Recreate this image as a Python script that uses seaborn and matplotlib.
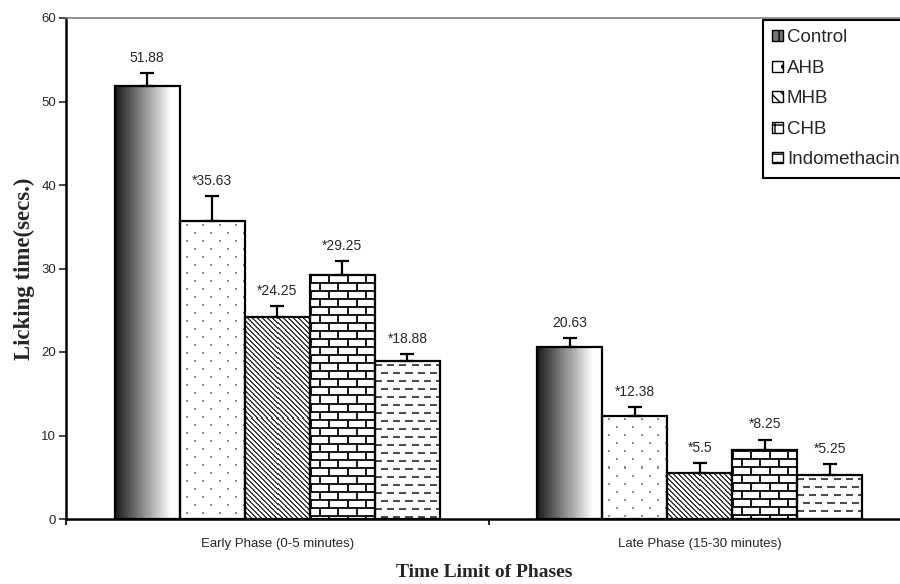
import numpy as np
import pandas as pd
import matplotlib
matplotlib.use("Agg")
import matplotlib.pyplot as plt
import seaborn as sns
from matplotlib.patches import Patch

sns.set_style("white")
plt.rcParams["font.family"] = ["Liberation Sans", "DejaVu Sans"]

# datos
phases = ["Early Phase (0-5 minutes)", "Late Phase (15-30 minutes)"]
groups = ["Control", "AHB", "MHB", "CHB", "Indomethacin"]
early = [51.88, 35.63, 24.25, 29.25, 18.88]
late = [20.63, 12.38, 5.5, 8.25, 5.25]
early_err = [1.5, 3.0, 1.2, 1.6, 0.85]
late_err = [1.0, 1.0, 1.2, 1.25, 1.3]
early_lbl = ["51.88", "*35.63", "*24.25", "*29.25", "*18.88"]
late_lbl = ["20.63", "*12.38", "*5.5", "*8.25", "*5.25"]
textures = ["gradient", "dots", "diag", "brick", "dash"]

df = pd.DataFrame({
    "phase": [phases[0]] * 5 + [phases[1]] * 5,
    "group": groups * 2,
    "value": early + late,
})


def make_texture(kind, h, w):
    yy, xx = np.mgrid[0:h, 0:w]
    img = np.ones((h, w))
    if kind == "gradient":
        ramp = np.clip(np.linspace(0, 1, w) / 0.85, 0, 1)
        img = np.tile(0.1 + 0.9 * ramp, (h, 1))
    elif kind == "dots":
        row = yy // 8
        on = (yy % 8 >= 3) & (yy % 8 <= 4) & ((xx + (row % 2) * 8) % 16 >= 6) & ((xx + (row % 2) * 8) % 16 <= 7)
        img[on] = 0.55
    elif kind == "diag":
        img[(xx - yy) % 5 < 2] = 0.25
    elif kind == "brick":
        row = yy // 8
        horiz = yy % 8 < 2
        vert = ((xx + (row % 2) * 9) % 18) < 2
        img[horiz | vert] = 0.1
    elif kind == "dash":
        row = yy // 8
        on = (yy % 8 >= 3) & (yy % 8 <= 4) & (((xx + (row % 2) * 6) % 12) < 7)
        img[on] = 0.3
    return img


fig = plt.figure(figsize=(9, 5.84), dpi=100)
ax = fig.add_axes([66 / 900, 1 - 519 / 584, 845 / 900, 501 / 584])

sns.barplot(data=df, x="phase", y="value", hue="group", hue_order=groups,
            palette=["white"] * 5, edgecolor="black", linewidth=1.6,
            width=0.77, errorbar=None, legend=False, ax=ax)

ax.set_xlim(-0.5, 1.5)
ax.set_ylim(0, 60)

bar_conts = list(ax.containers)
for i, cont in enumerate(bar_conts):
    errs = [early_err[i], late_err[i]]
    lbls = [early_lbl[i], late_lbl[i]]
    for j, bar in enumerate(cont.patches):
        bar.set_facecolor("none")
        bar.set_zorder(2)
        bb = bar.get_window_extent()
        w = max(int(round(bb.width)), 1)
        h = max(int(round(bb.height)), 1)
        x0 = bar.get_x()
        x1 = x0 + bar.get_width()
        top = bar.get_height()
        ax.imshow(make_texture(textures[i], h, w), cmap="gray", vmin=0, vmax=1,
                  extent=(x0, x1, 0, top), aspect="auto", interpolation="nearest",
                  clip_path=bar, zorder=1)
        xc = x0 + bar.get_width() / 2
        ax.errorbar([xc], [top], yerr=[[0], [errs[j]]], fmt="none", ecolor="black",
                    elinewidth=1.6, capsize=5, capthick=1.6, zorder=3)
        ax.annotate(lbls[j], (xc, top + errs[j]), xytext=(0, 11), textcoords="offset points",
                    ha="center", va="center", fontsize=10)

ax.set_xlim(-0.5, 1.5)
ax.set_ylim(0, 60)
ax.set_yticks(range(0, 61, 10))
ax.set_xticks([0, 1])
ax.set_xticklabels(phases, fontsize=9.5)
ax.set_xticks([-0.5, 0.5, 1.5], minor=True)
ax.tick_params(axis="x", which="major", length=0, pad=14)
ax.tick_params(axis="x", which="minor", direction="out", length=4, width=1.5, bottom=True)
ax.tick_params(axis="y", direction="out", length=5, width=1.2, left=True, labelsize=9.5, pad=2)

for side in ["left", "bottom"]:
    ax.spines[side].set_color("black")
    ax.spines[side].set_linewidth(1.8)
ax.spines["top"].set_color("#808080")
ax.spines["top"].set_linewidth(1.2)
ax.spines["right"].set_visible(False)

ax.set_ylabel("Licking time(secs.)", family="Liberation Serif", fontweight="bold", fontsize=16.5)
ax.yaxis.set_label_coords(-0.037, 0.5)
ax.set_xlabel("Time Limit of Phases", family="Liberation Serif", fontweight="bold", fontsize=14)
ax.xaxis.set_label_coords(0.495, -0.09)

handles = [
    Patch(facecolor="0.45", edgecolor="black", hatch="||"),
    Patch(facecolor="white", edgecolor="black", hatch="."),
    Patch(facecolor="white", edgecolor="black", hatch="\\\\\\"),
    Patch(facecolor="white", edgecolor="black", hatch="+"),
    Patch(facecolor="white", edgecolor="black", hatch="--"),
]
leg = ax.legend(handles, groups, loc="upper left", bbox_to_anchor=(763 / 900, 1 - 20 / 584),
                bbox_transform=fig.transFigure, borderaxespad=0, fancybox=False,
                frameon=True, edgecolor="black", framealpha=1, fontsize=13.5,
                handlelength=0.55, handleheight=0.55, handletextpad=0.22,
                labelspacing=0.72, borderpad=0.5)
leg.get_frame().set_linewidth(1.5)

fig.savefig("out.png", dpi=100)
